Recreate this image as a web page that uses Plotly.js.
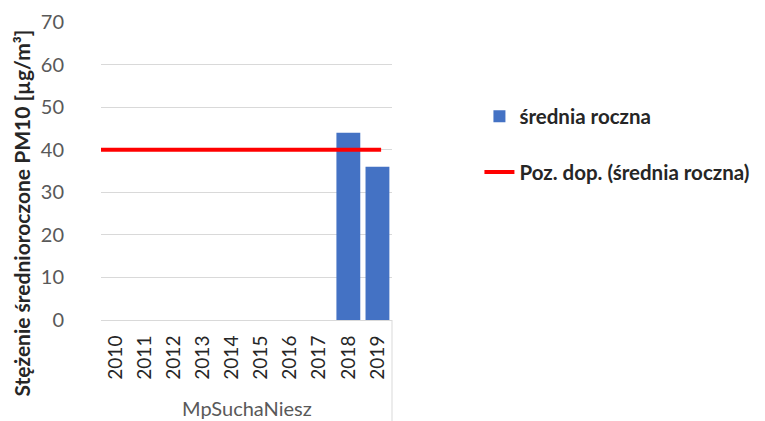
<!DOCTYPE html>
<html>
<head>
<meta charset="utf-8">
<script src="https://cdn.plot.ly/plotly-3.0.1.min.js"></script>
<style>html,body{margin:0;padding:0;background:#fff;}#chart{width:765px;height:421px;}</style>
</head>
<body>
<div id="chart"></div>
<script>
const categories = ['2010','2011','2012','2013','2014','2015','2016','2017','2018','2019'];
const annualMean = [null, null, null, null, null, null, null, null, 44, 36];
const limitValue = [40, 40, 40, 40, 40, 40, 40, 40, 40, 40];
const yTicks = [0, 10, 20, 30, 40, 50, 60, 70];
const stationName = 'MpSuchaNiesz';
const seriesNames = ['średnia roczna', 'Poz. dop. (średnia roczna)'];
const yTitle = 'Stężenie średnioroczone PM10 [µg/m³]';

const FONT = 'Lato, "Open Sans", sans-serif';
const GREY = '#595959';
const GRID = '#d9d9d9';

const traces = [
  {
    type: 'bar', x: categories, y: annualMean, name: seriesNames[0],
    marker: {color: '#4472c4'}, legendgroup: 'a', hoverinfo: 'x+y'
  },
  {
    type: 'scatter', mode: 'lines', x: categories.map((_, i) => i), y: limitValue,
    xaxis: 'x2', name: seriesNames[1], line: {color: '#ff0000', width: 4},
    legendgroup: 'b'
  }
];

const layout = {
  width: 765, height: 421,
  margin: {l: 101, r: 372, t: 22, b: 101, pad: 0},
  paper_bgcolor: '#fff', plot_bgcolor: '#fff',
  font: {family: FONT, color: GREY, size: 20},
  bargap: 0.18,
  showlegend: true,
  legend: {
    x: 1.296, xanchor: 'left', y: 0.75, yanchor: 'top',
    font: {family: FONT, size: 20.5, color: '#262626', weight: 'bold'},
    traceorder: 'grouped', tracegroupgap: 26, bgcolor: 'rgba(0,0,0,0)',
    borderwidth: 0
  },
  xaxis: {
    type: 'category', categoryarray: categories, tickangle: -90,
    showgrid: false, showline: true, linecolor: GRID, linewidth: 1,
    ticks: '', ticklabelstandoff: 7,
    tickfont: {family: FONT, size: 19, color: '#262626'},
    fixedrange: true
  },
  xaxis2: {
    overlaying: 'x', type: 'linear', range: [0, 9.35], visible: false, fixedrange: true
  },
  yaxis: {
    range: [0, 70], tickvals: yTicks, showgrid: true, gridcolor: GRID, gridwidth: 1,
    zeroline: false, showline: false, ticks: '', ticklabelstandoff: 36,
    tickfont: {family: FONT, size: 20, color: GREY}, fixedrange: true
  },
  shapes: [
    {type: 'line', xref: 'paper', yref: 'paper', x0: 1, x1: 1, y0: 0, y1: -0.34,
     line: {color: GRID, width: 1}}
  ],
  annotations: [
    {text: stationName, xref: 'paper', yref: 'paper', x: 0.5, y: -0.295,
     showarrow: false, yanchor: 'middle', font: {family: FONT, size: 20, color: GREY}},
    {text: yTitle, xref: 'paper', yref: 'paper', x: -0.272, y: 0.36,
     textangle: -90, showarrow: false, xanchor: 'center', yanchor: 'middle',
     font: {family: FONT, size: 21, color: '#262626', weight: 'bold'}}
  ]
};

Plotly.newPlot('chart', traces, layout, {displayModeBar: false, staticPlot: true});
</script>
</body>
</html>
